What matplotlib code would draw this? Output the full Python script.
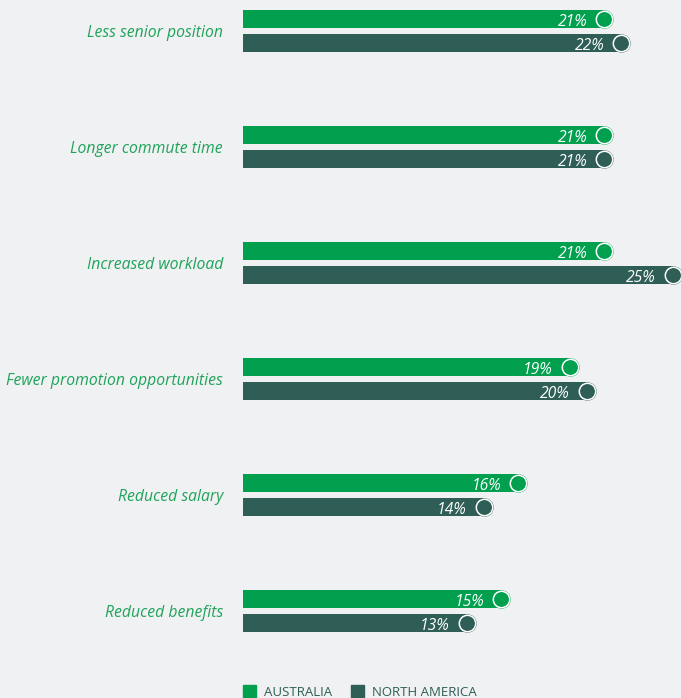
import matplotlib
matplotlib.use("Agg")
import matplotlib.pyplot as plt
from matplotlib.patches import Rectangle

plt.rcParams['font.family'] = ['Open Sans', 'DejaVu Sans']

categories = ["Less senior position", "Longer commute time", "Increased workload",
              "Fewer promotion opportunities", "Reduced salary", "Reduced benefits"]
australia = [21, 21, 21, 19, 16, 15]
north_america = [22, 21, 25, 20, 14, 13]
series_names = ["AUSTRALIA", "NORTH AMERICA"]

BG = "#f0f1f3"
GREEN = "#00a04f"
DARK = "#2e5e55"
LABEL = "#1fa35a"

W, H = 681, 698
fig = plt.figure(figsize=(W / 100, H / 100), dpi=100, facecolor=BG)
# axes spans full height, y in pixel units; x in percent
ax = fig.add_axes([243 / W, 0, 438 / W, 1])
ax.set_facecolor(BG)
ax.set_xlim(0, 438 / 17.2)
ax.set_ylim(H, 0)
ax.axis("off")

bar_h = 18
for i, cat in enumerate(categories):
    y_au = 19 + 116 * i
    y_na = 43 + 116 * i
    for val, y, col in [(australia[i], y_au, GREEN), (north_america[i], y_na, DARK)]:
        ax.barh(y, val, height=bar_h, color=col, left=0)
        # rounded cap and ring at the bar end
        ax.plot(val, y, marker="o", markersize=13.3, color=col, markeredgewidth=0)
        ax.plot(val, y, marker="o", markersize=11.8, markerfacecolor=col,
                markeredgecolor="white", markeredgewidth=1.1)
        ax.annotate(f"{val}%", (val, y), xytext=(-17, -1), textcoords="offset pixels",
                    ha="right", va="center_baseline", color="white", fontsize=11.3,
                    style="italic")
    fig.text(223 / W, 1 - (y_au + 12) / H, cat, ha="right", va="center_baseline",
             color=LABEL, fontsize=11.3, style="italic")

# legend along the bottom edge
for x0, name, col in [(243, series_names[0], GREEN), (351, series_names[1], DARK)]:
    fig.add_artist(Rectangle((x0 / W, 1 - 697 / H), 13 / W, 12 / H,
                             transform=fig.transFigure, color=col))
    fig.text((x0 + 21) / W, 1 - 692 / H, name, ha="left", va="center",
             color=DARK, fontsize=9.5)

fig.savefig("out.png", dpi=100, facecolor=BG)
